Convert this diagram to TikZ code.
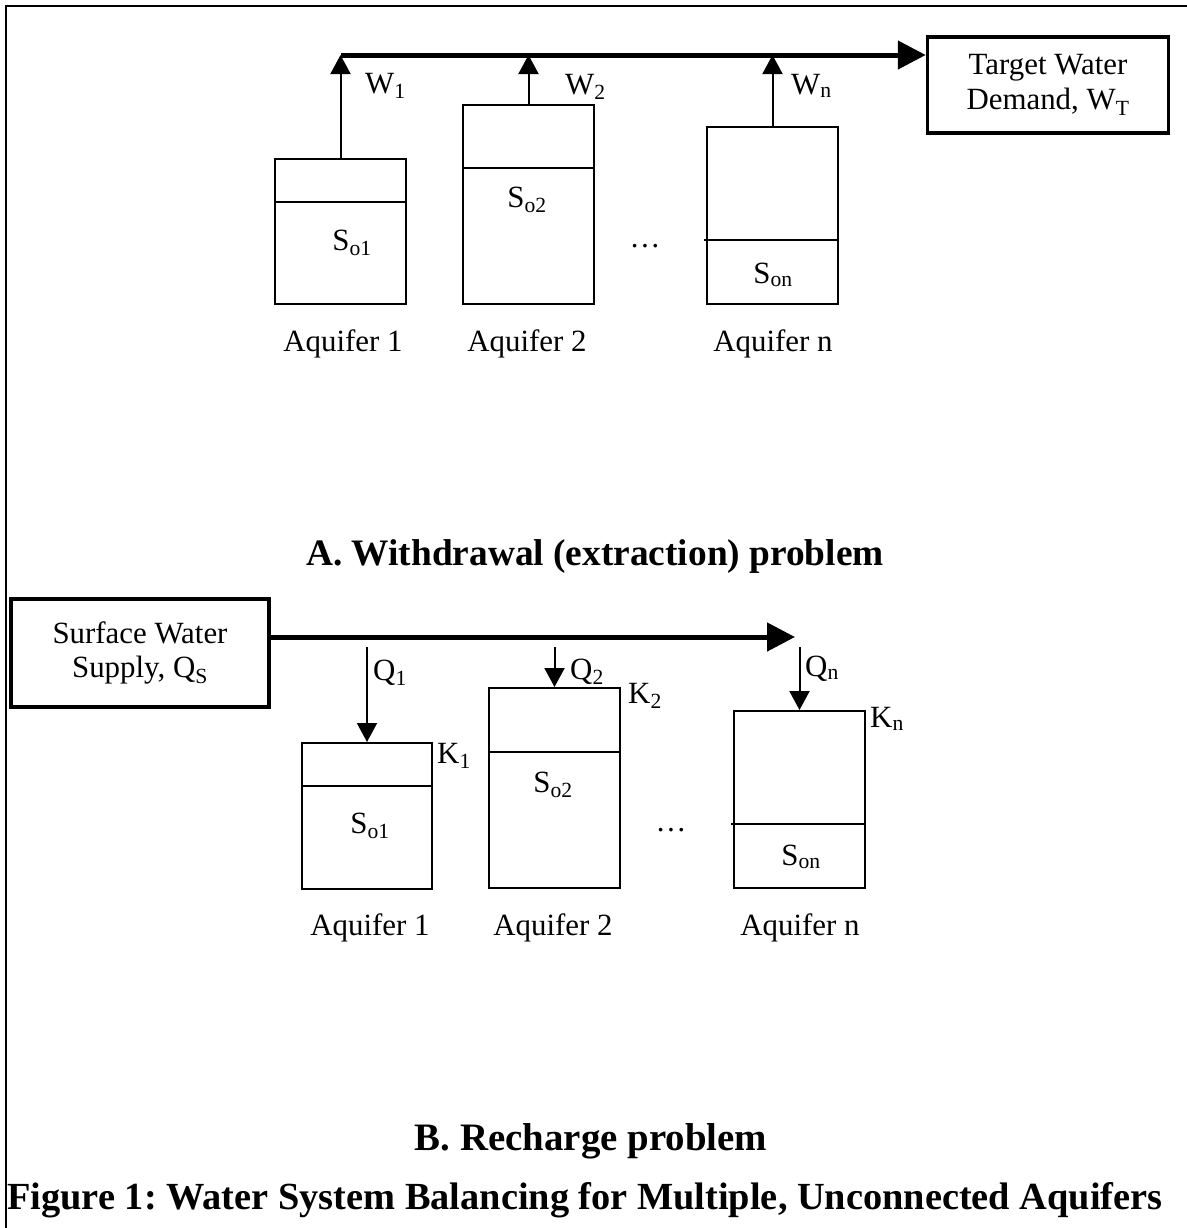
\documentclass[tikz,border=0pt]{standalone}
\usepackage{fontspec}
\setmainfont{Liberation Serif}
\usetikzlibrary{arrows.meta,positioning}
\tikzset{
    frame/.style = {line width=2bp},
    tank/.style = {draw, line width=2bp, inner sep=0pt, anchor=south west},
    level/.style = {line width=2bp},
    endbox/.style = {draw, line width=3.5bp, align=center, inner sep=0pt},
    flow/.style = {line width=5bp, -{Triangle[length=28bp,width=28bp]}},
    feed/.style = {line width=2bp, -{Triangle[length=19bp,width=20bp]}},
    heading/.style = {anchor=base, font=\bfseries}
}

\begin{document}
\begin{tikzpicture}[x=1bp,y=-1bp,line join=miter,font=\fontsize{31}{35}\selectfont]
\useasboundingbox (0,0) rectangle (1187,1228);
\draw[frame] (6,1228) -- (6,6) -- (1187,6);

% A. withdrawal
\node[tank, minimum width=131bp, minimum height=145bp] (a1) at (274,305) {};
\node[tank, minimum width=131bp, minimum height=199bp] (a2) at (462,305) {};
\node[tank, minimum width=131bp, minimum height=177bp] (an) at (706,305) {};
\draw[level] (274,202) -- (405,202);
\draw[level] (462,168) -- (595,168);
\draw[level] (704,240) -- (837,240);

\node[anchor=base] (so1) at (352,250) {S\textsubscript{o1}};
\node[anchor=base] (so2) at (527,207) {S\textsubscript{o2}};
\node[anchor=base] (son) at (773,283) {S\textsubscript{on}};
\node[anchor=base] (dotsa) at (645,247) {\ldots};

\node[anchor=base] (aq1) at (343,351) {Aquifer 1};
\node[anchor=base] (aq2) at (527,351) {Aquifer 2};
\node[anchor=base] (aqn) at (773,351) {Aquifer n};

\node[endbox, minimum width=241bp, minimum height=96bp] (target) at (1048,85) {Target Water\\Demand, W\textsubscript{T}};

\coordinate (wline) at (0,55);
\draw[flow] (a1.north |- wline) -- (target.west |- wline);
\draw[feed] (a1.north) -- (a1.north |- wline);
\draw[feed] (a2.north) -- (a2.north |- wline);
\draw[feed] (an.north) -- (an.north |- wline);
\node[anchor=base west, inner sep=0pt] (w1) at (365,93) {W\textsubscript{1}};
\node[anchor=base west, inner sep=0pt] (w2) at (565,94) {W\textsubscript{2}};
\node[anchor=base west, inner sep=0pt] (wn) at (791,94) {W\textsubscript{n}};

\node[heading, font=\fontsize{37.5}{40}\selectfont\bfseries] (titlea) at (595,565) {A. Withdrawal (extraction) problem};

% B. recharge
\node[endbox, minimum width=258bp, minimum height=108bp] (supply) at (140,653) {Surface Water\\Supply, Q\textsubscript{S}};

\node[tank, minimum width=130bp, minimum height=146bp] (b1) at (301,890) {};
\node[tank, minimum width=131bp, minimum height=200bp] (b2) at (488,889) {};
\node[tank, minimum width=131bp, minimum height=177bp] (bn) at (733,889) {};
\draw[level] (301,786) -- (431,786);
\draw[level] (488,752) -- (621,752);
\draw[level] (731,824) -- (864,824);

\coordinate (qline) at (0,637);
\coordinate (qtop) at (0,647);
\coordinate (qend) at (795,637);
\draw[flow] (supply.east |- qline) -- (qend);
\draw[feed] (b1.north |- qtop) -- (b1.north);
\draw[feed] (b2.north |- qtop) -- (b2.north);
\draw[feed] (bn.north |- qtop) -- (bn.north);
\node[anchor=base west, inner sep=0pt] (q1) at (373,680) {Q\textsubscript{1}};
\node[anchor=base west, inner sep=0pt] (q2) at (570,679) {Q\textsubscript{2}};
\node[anchor=base west, inner sep=0pt] (qn) at (805,676) {Q\textsubscript{n}};

\node[anchor=base west, inner sep=0pt] (k1) at (437,763) {K\textsubscript{1}};
\node[anchor=base west, inner sep=0pt] (k2) at (628,703) {K\textsubscript{2}};
\node[anchor=base west, inner sep=0pt] (kn) at (870,727) {K\textsubscript{n}};

\node[anchor=base] (to1) at (370,833) {S\textsubscript{o1}};
\node[anchor=base] (to2) at (553,792) {S\textsubscript{o2}};
\node[anchor=base] (ton) at (801,865) {S\textsubscript{on}};
\node[anchor=base] (dotsb) at (671,831) {\ldots};

\node[anchor=base] (bq1) at (370,935) {Aquifer 1};
\node[anchor=base] (bq2) at (553,935) {Aquifer 2};
\node[anchor=base] (bqn) at (800,935) {Aquifer n};

\node[heading, font=\fontsize{39}{42}\selectfont\bfseries] (titleb) at (591,1150) {B. Recharge problem};
\node[heading, font=\fontsize{38.5}{42}\selectfont\bfseries\frenchspacing] (caption) at (585,1209) {Figure 1: Water System Balancing for Multiple, Unconnected Aquifers};
\end{tikzpicture}
\end{document}
